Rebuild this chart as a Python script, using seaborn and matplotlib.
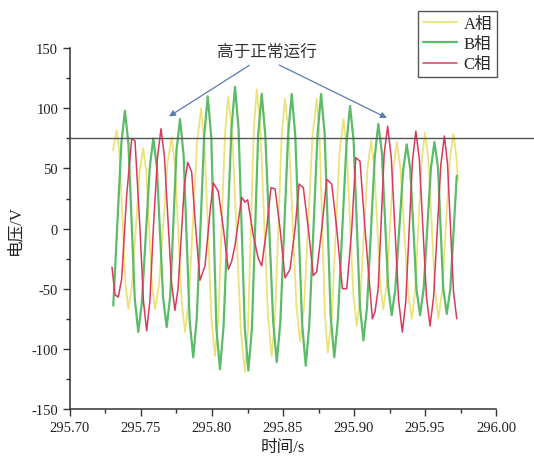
import numpy as np
import pandas as pd
import matplotlib
matplotlib.use('Agg')
import matplotlib.pyplot as plt
import seaborn as sns

# 三相电压波形 (时间/s, 电压/V)，按原图逐点读取
phase_a = [
    (295.7303, 65), (295.7329, 82), (295.7350, 60), (295.7390, -45), (295.7411, -67),
    (295.7437, -47), (295.7490, 47), (295.7516, 67), (295.7537, 47), (295.7578, -47),
    (295.7599, -67), (295.7628, -46), (295.7687, 55), (295.7716, 76), (295.7740, 52),
    (295.7787, -62), (295.7810, -86), (295.7838, -58), (295.7895, 72), (295.7923, 100),
    (295.7948, 69), (295.7996, -75), (295.8021, -106), (295.8045, -74), (295.8091, 78),
    (295.8115, 110), (295.8144, 76), (295.8203, -85), (295.8232, -119), (295.8253, -84),
    (295.8294, 81), (295.8315, 116), (295.8341, 83), (295.8394, -73), (295.8420, -106),
    (295.8444, -74), (295.8490, 76), (295.8514, 108), (295.8540, 78), (295.8594, -64),
    (295.8620, -94), (295.8649, -64), (295.8708, 78), (295.8737, 108), (295.8757, 76),
    (295.8795, -71), (295.8815, -103), (295.8843, -74), (295.8897, 62), (295.8925, 91),
    (295.8949, 65), (295.8995, -55), (295.9019, -81), (295.9044, -58), (295.9095, 50),
    (295.9120, 73), (295.9142, 52), (295.9184, -46), (295.9206, -67), (295.9230, -46),
    (295.9277, 51), (295.9301, 72), (295.9327, 50), (295.9380, -53), (295.9406, -75),
    (295.9430, -52), (295.9476, 57), (295.9500, 80), (295.9524, 57), (295.9570, -52),
    (295.9594, -75), (295.9620, -52), (295.9673, 56), (295.9699, 79), (295.9720, 60),
    (295.9732, 40),
]

phase_b = [
    (295.7305, -64), (295.7362, 71), (295.7387, 98), (295.7412, 70), (295.7456, -58),
    (295.7481, -86), (295.7506, -62), (295.7562, 51), (295.7587, 75), (295.7612, 51),
    (295.7656, -58), (295.7681, -82), (295.7706, -56), (295.7750, 65), (295.7775, 91),
    (295.7800, 61), (295.7843, -77), (295.7868, -107), (295.7893, -74), (295.7945, 77),
    (295.7970, 110), (295.7995, 76), (295.8031, -83), (295.8056, -117), (295.8081, -82),
    (295.8137, 83), (295.8162, 118), (295.8187, 83), (295.8231, -83), (295.8256, -118),
    (295.8281, -83), (295.8325, 78), (295.8350, 112), (295.8375, 78), (295.8431, -78),
    (295.8456, -111), (295.8481, -78), (295.8536, 78), (295.8561, 112), (295.8586, 78),
    (295.8635, -80), (295.8660, -114), (295.8685, -80), (295.8743, 78), (295.8768, 112),
    (295.8793, 79), (295.8836, -74), (295.8861, -107), (295.8886, -76), (295.8947, 71),
    (295.8972, 102), (295.8997, 73), (295.9041, -64), (295.9066, -93), (295.9091, -66),
    (295.9146, 60), (295.9171, 87), (295.9196, 63), (295.9240, -48), (295.9265, -72),
    (295.9290, -51), (295.9346, 49), (295.9371, 70), (295.9396, 49), (295.9440, -51),
    (295.9465, -72), (295.9490, -50), (295.9541, 50), (295.9566, 72), (295.9591, 51),
    (295.9628, -50), (295.9653, -71), (295.9678, -50), (295.9723, 44),
]

phase_c = [
    (295.7296, -32), (295.7317, -55), (295.7340, -57), (295.7364, -42), (295.7399, 27),
    (295.7435, 75), (295.7458, 73), (295.7493, 0), (295.7517, -60), (295.7540, -85),
    (295.7563, -60), (295.7587, 0), (295.7616, 59), (295.7641, 83), (295.7665, 60),
    (295.7715, -45), (295.7739, -68), (295.7761, -50), (295.7806, 37), (295.7829, 55),
    (295.7857, 47), (295.7880, 8), (295.7915, -43), (295.7951, -31), (295.7986, 14),
    (295.8009, 38), (295.8044, 31), (295.8080, 0), (295.8115, -34), (295.8139, -27),
    (295.8162, -14), (295.8209, 26), (295.8232, 22), (295.8251, 24), (295.8291, -6),
    (295.8326, -25), (295.8350, -31), (295.8385, 0), (295.8415, 34), (295.8444, 33),
    (295.8479, 0), (295.8514, -41), (295.8549, -34), (295.8585, 0), (295.8613, 37),
    (295.8643, 34), (295.8678, 0), (295.8713, -39), (295.8737, -36), (295.8773, 0),
    (295.8808, 41), (295.8843, 37), (295.8878, 0), (295.8918, -50), (295.8949, -50),
    (295.8984, 0), (295.9012, 59), (295.9042, 56), (295.9077, 0), (295.9129, -75),
    (295.9148, -69), (295.9170, -50), (295.9212, 62), (295.9237, 85), (295.9262, 59),
    (295.9314, -60), (295.9340, -86), (295.9364, -61), (295.9411, 56), (295.9435, 81),
    (295.9460, 57), (295.9510, -57), (295.9535, -81), (295.9560, -57), (295.9611, 53),
    (295.9636, 77), (295.9658, 54), (295.9700, -52), (295.9723, -75),
]

phases = ['A相', 'B相', 'C相']
colors = ['#ebe37a', '#5cbb68', '#d93a5c']
widths = [1.3, 1.6, 1.1]
x_ticks = [295.70, 295.75, 295.80, 295.85, 295.90, 295.95, 296.00]
y_ticks = [-150, -100, -50, 0, 50, 100, 150]
limit_v = 75

sns.set_style('ticks')
plt.rcParams['font.family'] = ['Liberation Serif', 'Noto Sans CJK SC']
plt.rcParams['axes.unicode_minus'] = False

fig = plt.figure(figsize=(5.34, 4.64), dpi=100)
ax = fig.add_axes([0.131, 0.1164, 0.798, 0.7776])

for pts, name, c, lw in zip([phase_a, phase_b, phase_c], phases, colors, widths):
    df = pd.DataFrame(pts, columns=['t', 'v'])
    sns.lineplot(data=df, x='t', y='v', ax=ax, color=c, lw=lw, label=name,
                 sort=False, estimator=None)

# 正常运行上限参考线，延伸到图外
ax.plot([295.70, 296.028], [limit_v, limit_v], color='#555555', lw=1.0, clip_on=False)

ax.set_xlim(295.70, 296.00)
ax.set_ylim(-150, 150)
ax.set_xticks(x_ticks)
ax.set_xticklabels([f'{x:.2f}' for x in x_ticks])
ax.set_yticks(y_ticks)
ax.set_xticks([295.725, 295.775, 295.825, 295.875, 295.925, 295.975], minor=True)
ax.set_yticks([-125, -75, -25, 25, 75, 125], minor=True)
ax.tick_params(which='major', direction='out', length=5, width=1, colors='#333333',
               labelsize=10.5, labelcolor='#222222')
ax.tick_params(which='minor', direction='out', length=3, width=1, colors='#333333')
for s in ['top', 'right']:
    ax.spines[s].set_visible(False)
for s in ['left', 'bottom']:
    ax.spines[s].set_color('#333333')
    ax.spines[s].set_linewidth(1.1)

ax.set_xlabel('时间/s', fontsize=12, color='#222222')
ax.set_ylabel('电压/V', fontsize=12, color='#222222', labelpad=6)

ax.text(295.8387, 147.5, '高于正常运行', ha='center', va='center', fontsize=12,
        color='#333333', family=['Noto Sans CJK SC'])
arrow = dict(arrowstyle='-|>', color='#5a7ab0', lw=0.9, mutation_scale=9)
ax.annotate('', xy=(295.7681, 92), xytext=(295.8279, 137), arrowprops=arrow)
ax.annotate('', xy=(295.9249, 91), xytext=(295.8456, 137), arrowprops=arrow)

leg = ax.legend(loc='upper right', bbox_to_anchor=(497 / 534, 1 - 12 / 464),
                bbox_transform=fig.transFigure, frameon=True, fancybox=False,
                framealpha=1, edgecolor='#555555', fontsize=12, handlelength=2.0,
                labelspacing=0.25, borderpad=0.3, handletextpad=0.4, borderaxespad=0)
leg.get_frame().set_linewidth(1.0)

fig.savefig('out.png', dpi=100)
